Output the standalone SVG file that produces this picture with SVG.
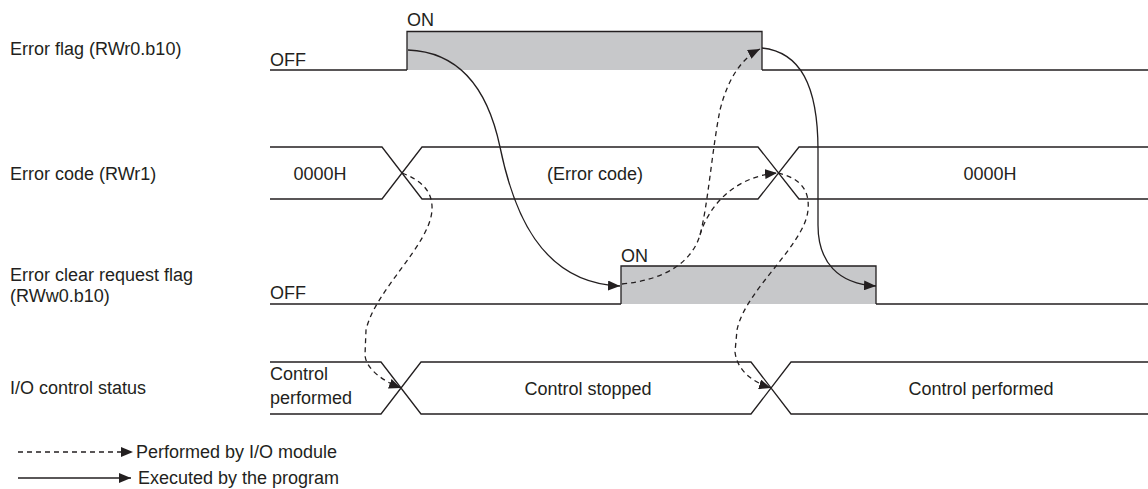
<svg xmlns="http://www.w3.org/2000/svg" width="1148" height="489" viewBox="0 0 1148 489">
<defs>
<marker id="ah" markerUnits="userSpaceOnUse" markerWidth="13" markerHeight="10" refX="12" refY="5" orient="auto">
<path d="M0,0 L12,5 L0,10 z" fill="#231f20"/>
</marker>
</defs>
<style>
text{font-family:"Liberation Sans",Arial,sans-serif;font-size:18px;fill:#231f20}
.sig{fill:none;stroke:#231f20;stroke-width:1.3}
.on{fill:#c7c8ca;stroke:#231f20;stroke-width:1.3}
.sol{fill:none;stroke:#231f20;stroke-width:1.3}
.dash{fill:none;stroke:#231f20;stroke-width:1.3;stroke-dasharray:5 4}
.m{text-anchor:middle}
</style>
<rect width="1148" height="489" fill="#fff"/>

<g id="label-error-flag"><text x="10" y="55">Error flag (RWr0.b10)</text></g>
<g id="label-error-code"><text x="10" y="180">Error code (RWr1)</text></g>
<g id="label-clear-flag"><text x="10" y="281">Error clear request flag</text><text x="10" y="302">(RWw0.b10)</text></g>
<g id="label-io-status"><text x="10" y="394">I/O control status</text></g>

<g id="sig-error-flag">
<path class="on" d="M407,70 L407,31.5 L762,31.5 L762,70"/>
<path class="sig" d="M270,70 L407,70 M762,70 L1148,70"/>
<text x="407" y="26">ON</text>
<text x="270" y="66">OFF</text>
</g>

<g id="sig-error-code">
<path class="sig" d="M270,147 L382,147 L422,199 L758,199 L799,147 L1148,147 M270,199 L382,199 L422,147 L758,147 L799,199 L1148,199"/>
<text class="m" x="320" y="180">0000H</text>
<text class="m" x="595" y="180">(Error code)</text>
<text class="m" x="990" y="180">0000H</text>
</g>

<g id="sig-clear-flag">
<path class="on" d="M621,304 L621,266 L876,266 L876,304"/>
<path class="sig" d="M270,304 L621,304 M876,304 L1148,304"/>
<text x="621" y="262">ON</text>
<text x="270" y="299">OFF</text>
</g>

<g id="sig-io-status">
<path class="sig" d="M270,362 L381,362 L421,414 L751,414 L791,362 L1148,362 M270,414 L381,414 L421,362 L751,362 L791,414 L1148,414"/>
<text x="270" y="380">Control</text>
<text x="270" y="404">performed</text>
<text class="m" x="588" y="395">Control stopped</text>
<text class="m" x="981" y="395">Control performed</text>
</g>

<g id="connectors">
<path class="sol" marker-end="url(#ah)" d="M408,50 C460,52 488,90 500,147 C513,210 540,283 620,286"/>
<path class="sol" marker-end="url(#ah)" d="M762,48 C800,52 818,85 818,150 L818,225 C818,262 838,284 876,286"/>
<path class="dash" marker-end="url(#ah)" d="M402,173 C420,180 433,190 432,210 C430,245 375,290 366,330 L365,355 C366,370 385,382 401,388"/>
<path class="dash" marker-end="url(#ah)" d="M622,284 C665,280 692,262 700,235 C708,205 712,150 720,110 C728,78 742,58 760,49"/>
<path class="dash" marker-end="url(#ah)" d="M700,235 C708,208 732,177 777,173"/>
<path class="dash" marker-end="url(#ah)" d="M778,173 C800,178 810,190 808,210 C805,245 745,290 737,330 L735,352 C737,370 752,382 771,388"/>
</g>

<g id="legend">
<path class="dash" marker-end="url(#ah)" d="M18,452 L133,452"/>
<text x="136" y="458">Performed by I/O module</text>
<path class="sol" marker-end="url(#ah)" d="M18,478 L131,478"/>
<text x="138" y="484">Executed by the program</text>
</g>
</svg>
